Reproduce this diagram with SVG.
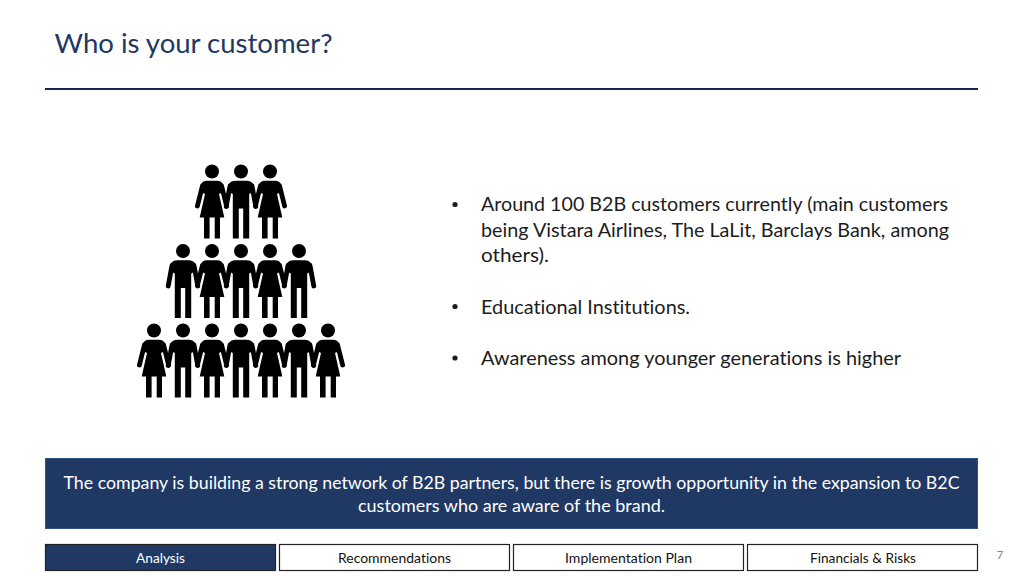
<svg xmlns="http://www.w3.org/2000/svg" width="1024" height="576" viewBox="0 0 1024 576">
<style>
text{font-family:"Lato","Open Sans","Liberation Sans",sans-serif;font-variant-ligatures:none}
.title{font-size:27.5px;fill:#1f3864}
.body{font-size:19.2px;fill:#1c1c1c}
.ban{font-size:17.6px;fill:#fff;text-anchor:middle}
.tab{font-size:13.6px;fill:#111;text-anchor:middle}
.tabbox{fill:#fff;stroke:#222;stroke-width:1.2}
.arm{fill:none;stroke:#000;stroke-width:4.8;stroke-linecap:round}
</style>
<defs>
<g id="woman">
<circle cx="0" cy="0" r="7"/>
<path d="M-9.6 14.5L-14.6 34.5M9.6 14.5L14.6 34.5" class="arm"/>
<path d="M-5 9.2H5Q9.5 9.2 11.5 13.5L10 21L7 22.5L12.3 46H8V67H2.7V46H-2.4V67H-8V46H-12.3L-7 22.5L-10 21L-11.5 13.5Q-9.5 9.2 -5 9.2Z"/>
</g>
<g id="man">
<circle cx="0" cy="0" r="7"/>
<path d="M-11 14.5L-14.8 35M11 14.5L14.8 35" class="arm"/>
<path d="M-5.5 9.2H5.5Q10.5 9.2 13 13.5L11 21L8.2 22.5V67H2.2V37H-2.2V67H-8.2V22.5L-11 21L-13 13.5Q-10.5 9.2 -5.5 9.2Z"/>
</g>
</defs>
<g id="title"><text class="title" x="54.5" y="53" textLength="278" lengthAdjust="spacingAndGlyphs">Who is your customer?</text></g>
<g id="rule"><line x1="45" y1="89" x2="978" y2="89" stroke="#1b2550" stroke-width="2"/></g>
<g id="people">
<use href="#woman" x="212" y="171.5"/><use href="#man" x="241" y="171.5"/><use href="#woman" x="270" y="171.5"/>
<use href="#man" x="183" y="251"/><use href="#woman" x="212" y="251"/><use href="#man" x="241" y="251"/><use href="#woman" x="270" y="251"/><use href="#man" x="299" y="251"/>
<use href="#woman" x="154" y="330.5"/><use href="#man" x="183" y="330.5"/><use href="#woman" x="212" y="330.5"/><use href="#man" x="241" y="330.5"/><use href="#woman" x="270" y="330.5"/><use href="#man" x="299" y="330.5"/><use href="#woman" x="328" y="330.5"/>
</g>
<g id="bullets">
<circle cx="455" cy="204.5" r="2.6" fill="#1c1c1c"/>
<text class="body" x="481" y="211" textLength="467" lengthAdjust="spacingAndGlyphs">Around 100 B2B customers currently (main customers</text>
<text class="body" x="481" y="237" textLength="468" lengthAdjust="spacingAndGlyphs">being Vistara Airlines, The LaLit, Barclays Bank, among</text>
<text class="body" x="481" y="262" textLength="68" lengthAdjust="spacingAndGlyphs">others).</text>
<circle cx="455" cy="306.5" r="2.6" fill="#1c1c1c"/>
<text class="body" x="481" y="313.5" textLength="209" lengthAdjust="spacingAndGlyphs">Educational Institutions.</text>
<circle cx="455" cy="358" r="2.6" fill="#1c1c1c"/>
<text class="body" x="481" y="365" textLength="420" lengthAdjust="spacingAndGlyphs">Awareness among younger generations is higher</text>
</g>
<g id="banner">
<rect x="45.5" y="458.5" width="932" height="70" fill="#1f3864" stroke="#2f5183"/>
<text class="ban" x="511.5" y="488.5" textLength="896" lengthAdjust="spacingAndGlyphs">The company is building a strong network of B2B partners, but there is growth opportunity in the expansion to B2C</text>
<text class="ban" x="511.5" y="511.5" textLength="307" lengthAdjust="spacingAndGlyphs">customers who are aware of the brand.</text>
</g>
<g id="tab-analysis"><rect x="45.5" y="544.5" width="230" height="26" fill="#1f3864" stroke="#222" stroke-width="1.2"/><text class="tab" x="160.5" y="563" style="fill:#fff" textLength="49" lengthAdjust="spacingAndGlyphs">Analysis</text></g>
<g id="tab-recommendations"><rect class="tabbox" x="279.5" y="544.5" width="230" height="26"/><text class="tab" x="394.5" y="563" textLength="113" lengthAdjust="spacingAndGlyphs">Recommendations</text></g>
<g id="tab-implementation"><rect class="tabbox" x="513.5" y="544.5" width="230" height="26"/><text class="tab" x="628.5" y="563" textLength="127" lengthAdjust="spacingAndGlyphs">Implementation Plan</text></g>
<g id="tab-financials"><rect class="tabbox" x="747.5" y="544.5" width="230" height="26"/><text class="tab" x="863" y="563" textLength="106" lengthAdjust="spacingAndGlyphs">Financials &amp; Risks</text></g>
<g id="page"><text x="1000" y="559" font-size="12" fill="#8a8a8a" text-anchor="middle">7</text></g>
</svg>
